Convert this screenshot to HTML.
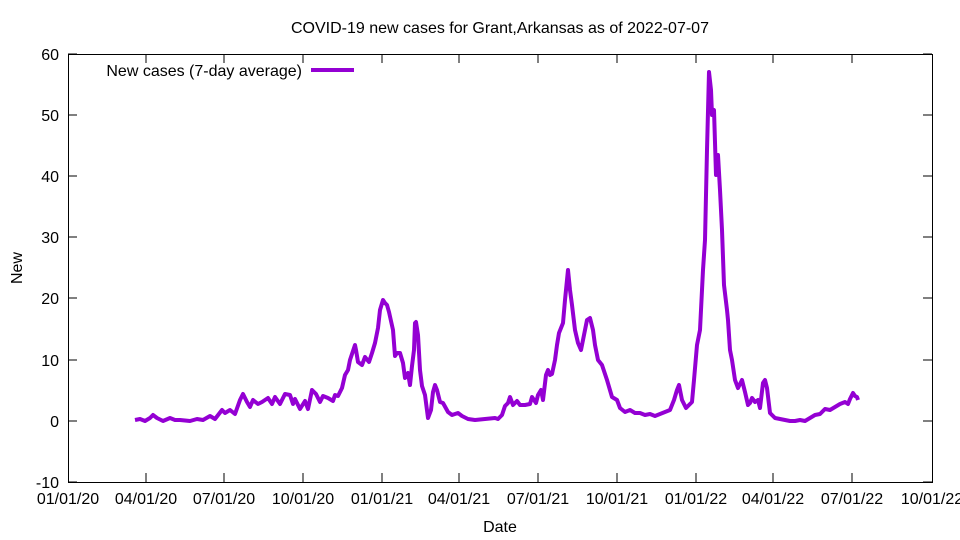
<!DOCTYPE html>
<html><head><meta charset="utf-8"><style>body{margin:0;background:#fff}svg{display:block;font-family:"Liberation Sans",sans-serif}</style></head><body>
<svg width="960" height="540" xmlns="http://www.w3.org/2000/svg">
<rect x="0" y="0" width="960" height="540" fill="#fff"/>
<g stroke="#000" stroke-width="1" fill="none">
<rect x="68.5" y="54.5" width="864" height="428"/>
<path d="M68 421H77M932 421H923M68 360H77M932 360H923M68 298H77M932 298H923M68 237H77M932 237H923M68 176H77M932 176H923M68 115H77M932 115H923M68 482H77M932 482H923M68 54H77M932 54H923"/>
<path d="M146 482V473M146 54V63M224 482V473M224 54V63M303 482V473M303 54V63M382 482V473M382 54V63M459 482V473M459 54V63M538 482V473M538 54V63M617 482V473M617 54V63M696 482V473M696 54V63M773 482V473M773 54V63M852 482V473M852 54V63"/>
</g>
<g font-size="16" fill="#000" text-anchor="end">
<text x="59" y="60">60</text><text x="59" y="121">50</text><text x="59" y="182">40</text><text x="59" y="243">30</text><text x="59" y="304">20</text><text x="59" y="366">10</text><text x="59" y="427">0</text><text x="59" y="488">-10</text>
</g>
<g font-size="16" fill="#000" text-anchor="middle">
<text x="68" y="504">01/01/20</text><text x="146" y="504">04/01/20</text><text x="224" y="504">07/01/20</text><text x="303" y="504">10/01/20</text><text x="382" y="504">01/01/21</text><text x="459" y="504">04/01/21</text><text x="538" y="504">07/01/21</text><text x="617" y="504">10/01/21</text><text x="696" y="504">01/01/22</text><text x="773" y="504">04/01/22</text><text x="852" y="504">07/01/22</text><text x="932" y="504">10/01/22</text>
<text x="500" y="532">Date</text>
<text x="500" y="33">COVID-19 new cases for Grant,Arkansas as of 2022-07-07</text>
<text x="22" y="268" transform="rotate(-90 22 268)">New</text>
</g>
<text x="302" y="76" font-size="16" text-anchor="end">New cases (7-day average)</text>
<path d="M311 70H354" stroke="#9400d3" stroke-width="4"/>
<polyline fill="none" stroke="#9400d3" stroke-width="4" stroke-linejoin="round" points="135,420 140,419 145,421 150,418 153,415 157,418 163,421 170,418 175,420 180,420 190,421 197,419 203,420 210,416 215,419 222,410 225,413 230,410 235,414 240,400 243,394 247,402 250,407 253,400 258,404 262,402 268,398 272,404 275,397 280,404 285,394 290,395 293,404 295,399 300,409 305,401 308,409 312,390 316,394 320,402 323,396 328,398 333,401 335,395 338,396 342,388 345,375 348,370 350,360 352,354 355,345 356,350 358,362 362,365 365,357 369,362 372,353 375,343 378,328 380,310 383,300 385,303 387,305 389,312 393,330 395,356 397,353 400,353 403,363 405,378 408,373 410,385 412,366 414,350 415,323 416,322 418,335 420,370 422,386 425,395 428,418 431,410 433,392 435,385 437,390 440,402 443,403 448,412 452,415 458,413 462,416 468,419 475,420 485,419 495,418 498,419 502,415 505,406 508,403 510,397 513,405 517,401 520,405 525,405 530,404 532,397 536,403 538,395 541,390 543,400 546,375 548,370 550,375 552,374 555,360 557,345 559,333 563,323 565,300 568,270 570,290 572,305 575,330 578,343 581,350 584,335 587,320 590,318 593,330 595,345 598,360 602,365 607,380 612,397 617,400 620,408 625,412 630,410 635,413 640,413 645,415 650,414 655,416 660,414 665,412 670,410 674,400 677,390 679,385 682,400 686,408 690,404 692,402 694,380 697,345 700,330 703,270 705,240 707,150 709,72 711,90 712,115 714,110 716,175 718,155 720,190 722,230 724,285 727,310 728,320 730,350 732,360 735,380 738,388 742,380 745,392 748,405 750,403 752,398 755,402 758,400 760,408 763,383 765,380 767,388 770,413 775,418 780,419 785,420 790,421 795,421 800,420 805,421 810,418 815,415 820,414 825,409 830,410 835,407 840,404 845,402 848,404 850,399 853,393 855,396 857,397 858,400"/>
</svg>
</body></html>
